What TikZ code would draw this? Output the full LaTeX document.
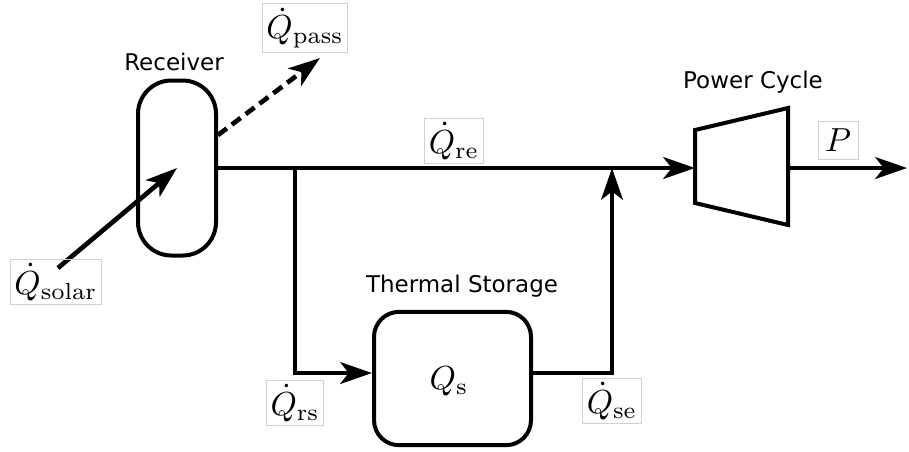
\documentclass[tikz,border=0pt]{standalone}
\usepackage{fontspec}
\newfontfamily\labelfont{DejaVu Sans}
\usetikzlibrary{arrows.meta}
\begin{document}
\begin{tikzpicture}[x=0.3pt,y=-0.3pt,
  blk/.style={draw, line width=1.2pt, inner sep=0pt},
  flow/.style={line width=1.4pt, -{Stealth[length=9.5pt,width=6.5pt,inset=2.5pt]}},
  lbl/.style={draw=black!18, line width=0.3pt, inner sep=1.2pt},
  ttl/.style={font=\labelfont\fontsize{6.9}{8}\selectfont, inner sep=0pt}]
\useasboundingbox (0,0) rectangle (909,451);
% blocks
\node[blk, rounded corners=10pt, minimum width=23.4pt, minimum height=52.5pt] (rec) at (177,168) {};
\node[blk, rounded corners=7.5pt, minimum width=47.1pt, minimum height=40pt] (sto) at (452.5,378.5) {};
\node (qs) at (449,381) {$Q_{\mathrm{s}}$};
\draw[line width=1.2pt] (695,130) -- (788,108) -- (788,225) -- (695,203) -- cycle;
\coordinate (pcin) at (695,168);
\coordinate (pcout) at (788,168);
% titles
\node[ttl] (trec) at (174,62) {Receiver};
\node[ttl] (tpc) at (753,82) {Power Cycle};
\node[ttl] (tsto) at (462,286) {Thermal Storage};
% coordinates
\coordinate (j1) at (295,168);
\coordinate (j2) at (612,168);
\coordinate (j3) at (295,373);
\coordinate (j4) at (612,373);
\coordinate (ss) at (58,268);
\coordinate (ps) at (218,135);
\coordinate (pe) at (320,58);
\coordinate (pend) at (907,168);
% flows
\draw[flow] (rec.east) -- (pcin);
\draw[flow] (ss) -- (rec.center);
\draw[flow, dash pattern=on 3.3pt off 1.9pt] (ps) -- (pe);
\draw[flow] (j1) -- (j3) -- (j3 -| sto.west);
\draw[flow] (j4 -| sto.east) -- (j4) -- (j2);
\draw[flow] (pcout) -- (pend);
% labels
\node[lbl] (lsolar) at (56,282) {$\dot Q_{\mathrm{solar}}$};
\node[lbl] (lpass) at (305,28) {$\dot Q_{\mathrm{pass}}$};
\node[lbl] (lre) at (454,141) {$\dot Q_{\mathrm{re}}$};
\node[lbl, minimum width=12pt, minimum height=11.4pt] (lp) at (838,140) {$P$};
\node[lbl] (lrs) at (295,403) {$\dot Q_{\mathrm{rs}}$};
\node[lbl] (lse) at (612,401) {$\dot Q_{\mathrm{se}}$};
\end{tikzpicture}
\end{document}
